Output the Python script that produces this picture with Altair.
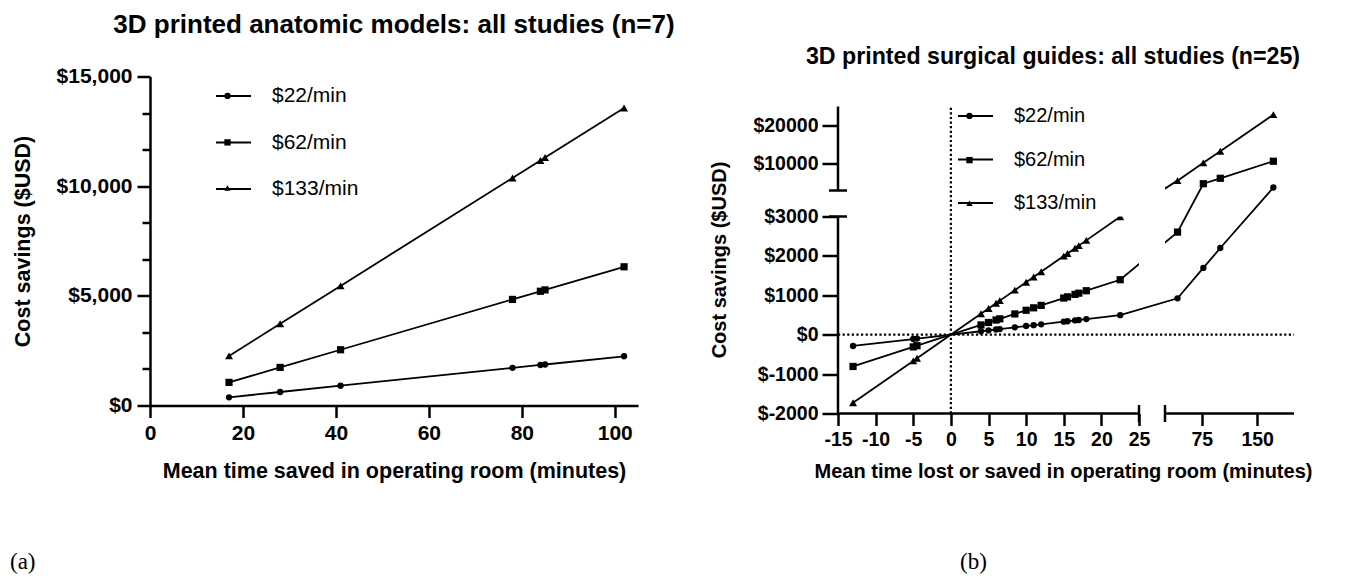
import altair as alt
import pandas as pd

FONT = "Liberation Sans"
SERIF = "Liberation Serif"
INK = "black"

RATES = ["$22/min", "$62/min", "$133/min"]
MARKER_SHAPES = ["circle", "square", "triangle-up"]
MARKER_SIZES = [40, 64, 36]
PANEL_LABELS = ["(a)", "(b)"]

# ---------------- panel (a) ----------------
A_TITLE = "3D printed anatomic models: all studies (n=7)"
A_X_TITLE = "Mean time saved in operating room (minutes)"
A_Y_TITLE = "Cost savings ($USD)"
A_TIME = [17, 28, 41, 78, 84, 85, 102]
A_SAVE_22 = [374, 616, 902, 1716, 1848, 1870, 2244]
A_SAVE_62 = [1054, 1736, 2542, 4836, 5208, 5270, 6324]
A_SAVE_133 = [2261, 3724, 5453, 10374, 11172, 11305, 13566]
A_X_DOMAIN = [0, 105]
A_Y_DOMAIN = [0, 15000]
A_X_TICKS = [0, 20, 40, 60, 80, 100]
A_Y_TICKS = [0, 1666.67, 3333.33, 5000, 6666.67, 8333.33, 10000, 11666.67, 13333.33, 15000]

# ---------------- panel (b) ----------------
B_TITLE = "3D printed surgical guides: all studies (n=25)"
B_X_TITLE = "Mean time lost or saved in operating room (minutes)"
B_Y_TITLE = "Cost savings ($USD)"
B_TIME = [-13, -5, -4.5, 4, 5, 6, 6.5, 8.5, 10, 11, 12, 15, 15.5, 16.5, 17, 18, 22.5, 42, 77, 100, 172]
B_SAVE_22 = [-286, -110, -99, 88, 110, 132, 143, 187, 220, 242, 264, 330, 341, 363, 374, 396, 495,
             924, 1694, 2200, 3784]
B_SAVE_62 = [-806, -310, -279, 248, 310, 372, 403, 527, 620, 682, 744, 930, 961, 1023, 1054, 1116, 1395,
             2604, 4774, 6200, 10664]
B_SAVE_133 = [-1729, -665, -599, 532, 665, 798, 865, 1131, 1330, 1463, 1596, 1995, 2062, 2195, 2261, 2394,
              2993, 5586, 10241, 13300, 22876]
B_X_LIMITS = [-15, 200]
B_Y_LIMITS = [-2000, 25000]
B_X_BREAK = [25, 25.001]
B_Y_BREAK = [3000, 3000.001]
B_X_TICKS = [-15, -10, -5, 0, 5, 10, 15, 20, 25, 75, 150]
B_Y_TICKS = [-2000, -1000, 0, 1000, 2000, 3000, 10000, 20000]

# layout (pixels)
A_W, A_H = 488, 329
B_W, B_H = 456, 337
B_X_RANGE = [0, 301, 327, B_W]
B_Y_RANGE = [B_H, 140, 114, 30]


def long_table(times, series):
    rows = []
    for rate, values in zip(RATES, series):
        for t, v in zip(times, values):
            rows.append({"time": t, "saving": v, "rate": rate, "marker": rate})
    return pd.DataFrame(rows)


def axis_style(label_size, title_size):
    return dict(domainColor=INK, domainWidth=2.5, tickColor=INK, tickWidth=2.5, grid=False,
                labelFlush=False, labelOverlap=False, labelFont=FONT, labelFontWeight="bold",
                labelFontSize=label_size, labelColor=INK, titleFont=FONT, titleFontWeight="bold",
                titleFontSize=title_size, titleColor=INK)


def data_layers(df, x_enc, y_enc, lx, ly, pad_line, pad_mark, dy_mark, label_size):
    # line legend: a stroke symbol with its label
    lines = alt.Chart(df).mark_line(strokeWidth=1.8, color=INK).encode(
        x=x_enc, y=y_enc,
        color=alt.Color("rate:N", scale=alt.Scale(domain=RATES, range=[INK] * 3),
                        legend=alt.Legend(orient="none", legendX=lx, legendY=ly, title=None,
                                          symbolType="stroke", symbolSize=1225, symbolStrokeWidth=1.8,
                                          symbolStrokeColor=INK, labelFont=FONT,
                                          labelFontSize=label_size, labelColor=INK, labelOffset=20,
                                          rowPadding=pad_line, padding=0)),
    )
    # marker legend: only the marker, laid over the middle of each stroke symbol
    points = alt.Chart(df).mark_point(filled=True, color=INK, opacity=1).encode(
        x=x_enc, y=y_enc,
        shape=alt.Shape("marker:N", sort=RATES, scale=alt.Scale(range=MARKER_SHAPES),
                        legend=alt.Legend(orient="none", legendX=lx + 8.5, legendY=ly + dy_mark,
                                          title=None, symbolSize=40, symbolFillColor=INK,
                                          symbolStrokeColor=INK, symbolOpacity=1, labelExpr="''",
                                          labelFontSize=1, labelOffset=0,
                                          rowPadding=pad_mark, padding=0)),
        size=alt.Size("marker:O", sort=RATES, scale=alt.Scale(range=MARKER_SIZES), legend=None),
    )
    return lines, points


def panel_label(text, x, y):
    return alt.Chart(pd.DataFrame({"label": [text]})).mark_text(
        align="left", baseline="middle", font=SERIF, fontSize=23, color=INK
    ).encode(text="label:N", x=alt.value(x), y=alt.value(y))


# ---------------- build (a) ----------------
a_df = long_table(A_TIME, [A_SAVE_22, A_SAVE_62, A_SAVE_133])
xA = alt.X("time:Q", scale=alt.Scale(domain=A_X_DOMAIN, nice=False, zero=False),
           axis=alt.Axis(values=A_X_TICKS, title=A_X_TITLE, tickSize=12, labelPadding=5,
                         titleY=66, titleBaseline="middle", **axis_style(21, 21.5)))
yA = alt.Y("saving:Q", scale=alt.Scale(domain=A_Y_DOMAIN, nice=False, zero=False),
           axis=alt.Axis(values=A_Y_TICKS, title=A_Y_TITLE,
                         tickSize={"condition": {"test": "abs(datum.value % 5000) < 1", "value": 13},
                                   "value": 8},
                         labelExpr="abs(datum.value % 5000) < 1 ? '$' + format(datum.value, ',') : ''",
                         labelPadding=5, titleX=-127, titleBaseline="middle",
                         **axis_style(21, 21.5)))
linesA, pointsA = data_layers(a_df, xA, yA, 65, 1, 17.5, 32.5, 14.4, 21)
panelA = alt.layer(linesA, pointsA, panel_label(PANEL_LABELS[0], -140, 485)).properties(
    width=A_W, height=A_H,
    title=alt.TitleParams(A_TITLE, font=FONT, fontSize=26, fontWeight="bold", color=INK,
                          anchor="middle", frame="group", offset=27.5),
)

# ---------------- build (b) ----------------
b_df = long_table(B_TIME, [B_SAVE_22, B_SAVE_62, B_SAVE_133])
B_X_DOMAIN = [B_X_LIMITS[0], B_X_BREAK[0], B_X_BREAK[1], B_X_LIMITS[1]]
B_Y_DOMAIN = [B_Y_LIMITS[0], B_Y_BREAK[0], B_Y_BREAK[1], B_Y_LIMITS[1]]
x_scale_b = alt.Scale(domain=B_X_DOMAIN, range=B_X_RANGE, nice=False, zero=False)
y_scale_b = alt.Scale(domain=B_Y_DOMAIN, range=B_Y_RANGE, nice=False, zero=False)
x_axis_b = alt.Axis(values=B_X_TICKS, labelExpr="'' + datum.value", title=B_X_TITLE, domain=False,
                    tickSize=12, labelPadding=5, titleX=225, titleY=58, titleBaseline="middle",
                    **axis_style(19.5, 20))
y_axis_b = alt.Axis(values=B_Y_TICKS, labelExpr="'$' + datum.value", title=B_Y_TITLE, domain=False,
                    tickSize=16, labelPadding=4, titleX=-119, titleY=183, titleBaseline="middle",
                    **axis_style(19.5, 20))


def bx(field):
    return alt.X(field, type="quantitative", scale=x_scale_b, axis=x_axis_b)


def by(field):
    return alt.Y(field, type="quantitative", scale=y_scale_b, axis=y_axis_b)


linesB, pointsB = data_layers(b_df, bx("time"), by("saving"), 119, 21, 14.5, 30.2, 14.4, 20)

gaps = pd.DataFrame([
    {"x": B_X_BREAK[0], "x2": B_X_BREAK[1], "y": 1000, "y2": B_Y_LIMITS[1]},
    {"x": B_X_LIMITS[0], "x2": B_X_BREAK[0], "y": B_Y_BREAK[0], "y2": B_Y_BREAK[1]},
])
gap_layer = alt.Chart(gaps).mark_rect(color="white").encode(
    x=bx("x"), x2="x2:Q", y=by("y"), y2="y2:Q")

zero_v = alt.Chart(pd.DataFrame({"x": [0], "y": [B_Y_LIMITS[0]], "y2": [B_Y_LIMITS[1]]})).mark_rule(
    color=INK, strokeWidth=2.2, strokeDash=[2.2, 2.4]).encode(x=bx("x"), y=by("y"), y2="y2:Q")
zero_h = alt.Chart(pd.DataFrame({"y": [0], "x": [B_X_LIMITS[0]], "x2": [B_X_LIMITS[1]]})).mark_rule(
    color=INK, strokeWidth=2.2, strokeDash=[2.2, 2.4]).encode(y=by("y"), x=bx("x"), x2="x2:Q")

axis_segments = pd.DataFrame([
    {"x": B_X_LIMITS[0], "x2": B_X_LIMITS[0], "y": B_Y_LIMITS[0], "y2": B_Y_BREAK[0]},
    {"x": B_X_LIMITS[0], "x2": B_X_LIMITS[0], "y": B_Y_BREAK[1], "y2": B_Y_LIMITS[1]},
    {"x": B_X_LIMITS[0], "x2": B_X_BREAK[0], "y": B_Y_LIMITS[0], "y2": B_Y_LIMITS[0]},
    {"x": B_X_BREAK[1], "x2": B_X_LIMITS[1], "y": B_Y_LIMITS[0], "y2": B_Y_LIMITS[0]},
])
axis_rules = alt.Chart(axis_segments).mark_rule(color=INK, strokeWidth=2.5).encode(
    x=bx("x"), x2="x2:Q", y=by("y"), y2="y2:Q")

caps_v = alt.Chart(pd.DataFrame({"x": B_X_BREAK, "y": [B_Y_LIMITS[0]] * 2})).mark_tick(
    orient="vertical", color=INK, thickness=2.5, size=17, opacity=1).encode(x=bx("x"), y=by("y"))
caps_h = alt.Chart(pd.DataFrame({"x": [B_X_LIMITS[0]] * 2, "y": B_Y_BREAK})).mark_tick(
    orient="horizontal", color=INK, thickness=2.5, size=18, opacity=1).encode(x=bx("x"), y=by("y"))

panelB = alt.layer(linesB, pointsB, gap_layer, zero_v, zero_h, axis_rules, caps_v, caps_h,
                   panel_label(PANEL_LABELS[1], 122, 485)).properties(
    width=B_W, height=B_H,
    title=alt.TitleParams(B_TITLE, font=FONT, fontSize=23.2, fontWeight="bold", color=INK,
                          anchor="middle", frame="group", offset=7, dx=-13),
)

chart = alt.hconcat(panelA, panelB, spacing=200, bounds="flush").resolve_scale(
    color="independent", shape="independent", size="independent"
).properties(
    padding={"left": 2, "top": 3.5, "right": 0, "bottom": 0},
    background="white",
).configure_view(stroke=None)

chart.save("out.html", embed_options={"renderer": "svg", "actions": False})
